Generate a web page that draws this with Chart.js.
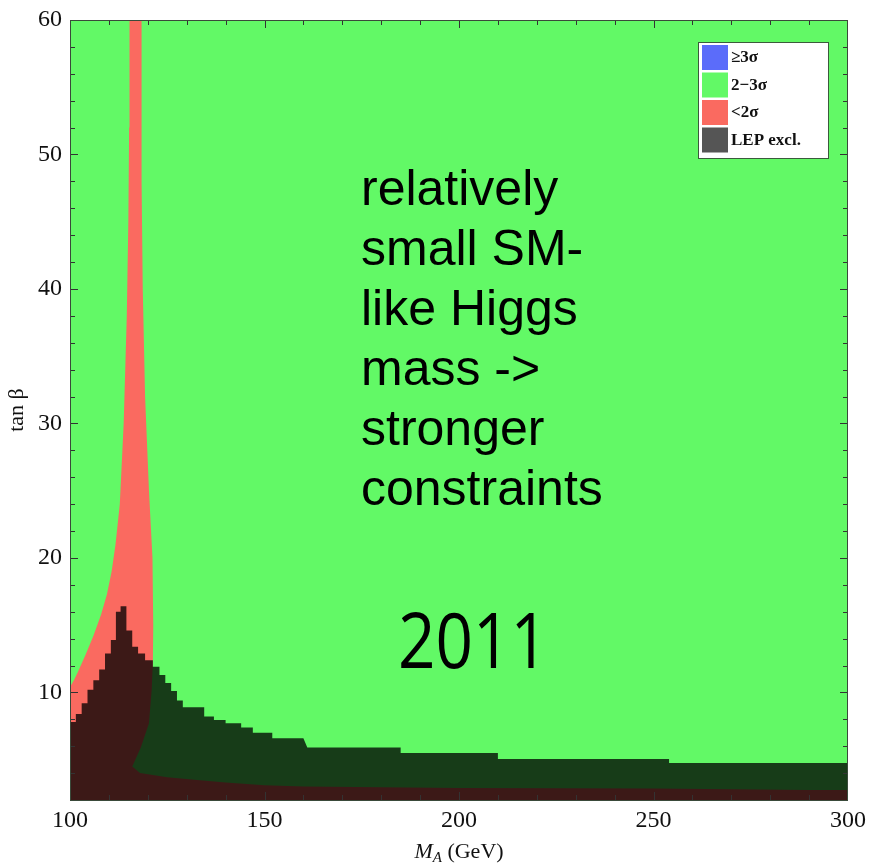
<!DOCTYPE html>
<html>
<head>
<meta charset="utf-8">
<script src="https://cdn.jsdelivr.net/npm/chart.js@4.4.1/dist/chart.umd.min.js"></script>
<style>
  html, body { margin: 0; padding: 0; background: #fff; }
  #wrap { width: 869px; height: 864px; }
</style>
</head>
<body>
<div id="wrap"><canvas id="c"></canvas></div>
<script>
// axis ranges
const X_MIN = 100, X_MAX = 300;
const Y_MIN = 2, Y_MAX = 60;

// 2-3 sigma: whole plane
const band23 = [[100, 2], [100, 60], [300, 60], [300, 2]];

// <2 sigma: narrow spike near 117 GeV, plus the strip along the bottom
const below2 = [
  [100, 2], [100, 10.4], [101, 10.9], [102, 11.5], [104, 12.8], [106, 14.2],
  [108, 15.8], [109.5, 17.3], [110.7, 19], [111.7, 21], [112.8, 24], [113.8, 30],
  [114.6, 38], [115, 45], [115.2, 52], [115.3, 60], [118.4, 60], [118.3, 55],
  [118.5, 48], [118.7, 40], [119.3, 32], [120.3, 25], [121.2, 20], [121.4, 15],
  [121.3, 12.2], [121, 10.2], [120.3, 7.7], [118.2, 5.9], [116, 4.5], [118, 4.0],
  [125, 3.7], [132, 3.5], [140, 3.3], [150, 3.1], [160, 3.0], [200, 2.9],
  [250, 2.85], [290, 2.75], [300, 2.75], [300, 2]
];

// LEP excluded region (stepped edge)
const lepExcl = [
  [100, 2], [100, 7.8], [101.5, 7.8], [101.5, 8.4], [103, 8.4], [103, 9.2],
  [104.5, 9.2], [104.5, 10.2], [106, 10.2], [106, 10.9], [107.5, 10.9], [107.5, 11.7],
  [109, 11.7], [109, 12.9], [110.5, 12.9], [110.5, 13.9], [111.8, 13.9], [111.8, 16],
  [113, 16], [113, 16.4], [114.5, 16.4], [114.5, 14.6], [116, 14.6], [116, 13.4],
  [117.5, 13.4], [117.5, 12.9], [119.3, 12.9], [119.3, 12.4], [121.3, 12.4], [121.3, 11.9],
  [123, 11.9], [123, 11.3], [124.5, 11.3], [124.5, 10.7], [126, 10.7], [126, 10.1],
  [127.5, 10.1], [127.5, 9.4], [129, 9.4], [129, 8.9], [134.5, 8.9], [134.5, 8.2],
  [137, 8.2], [137, 7.95], [140, 7.95], [140, 7.7], [144, 7.7], [144, 7.4],
  [147, 7.4], [147, 7.0], [152, 7.0], [152, 6.6], [160, 6.6], [161, 5.9],
  [185, 5.9], [185, 5.5], [210, 5.5], [210, 5.05], [254, 5.05], [254, 4.75],
  [300, 4.75], [300, 2]
];

const LEGEND_LABELS = ["\u22653\u03c3", "2\u22123\u03c3", "<2\u03c3", "LEP excl."];
const LEGEND_SWATCH = ["#5b6cfa", "#62f966", "#fa6a60", "#555555"];

const NOTE_LINES = ["relatively", "small SM-", "like Higgs", "mass ->", "stronger", "constraints"];
const YEAR_TEXT = "2011";

const SERIF = "'Liberation Serif', 'Times New Roman', serif";

const pts = arr => arr.map(p => ({ x: p[0], y: p[1] }));

function region(label, data, color, order) {
  return {
    label,
    data: pts(data),
    showLine: true,
    fill: "shape",
    backgroundColor: color,
    borderColor: "transparent",
    borderWidth: 0,
    pointRadius: 0,
    pointHoverRadius: 0,
    tension: 0,
    order,
  };
}

const framePlugin = {
  id: "frame",
  afterDatasetsDraw(chart) {
    const { ctx, chartArea: a, scales } = chart;
    ctx.save();
    ctx.strokeStyle = "#333";
    ctx.lineWidth = 1;
    ctx.beginPath();
    scales.x.ticks.forEach(t => {
      if (t.value <= X_MIN || t.value >= X_MAX) return;
      const px = Math.round(scales.x.getPixelForValue(t.value)) + 0.5;
      const len = t.value % 50 === 0 ? 8 : 5;
      ctx.moveTo(px, a.bottom); ctx.lineTo(px, a.bottom - len);
      ctx.moveTo(px, a.top); ctx.lineTo(px, a.top + len);
    });
    scales.y.ticks.forEach(t => {
      if (t.value <= Y_MIN || t.value >= Y_MAX) return;
      const py = Math.round(scales.y.getPixelForValue(t.value)) + 0.5;
      const len = t.value % 10 === 0 ? 8 : 5;
      ctx.moveTo(a.left, py); ctx.lineTo(a.left + len, py);
      ctx.moveTo(a.right, py); ctx.lineTo(a.right - len, py);
    });
    ctx.stroke();
    ctx.strokeStyle = "#3a4a3a";
    ctx.strokeRect(a.left + 0.5, a.top + 0.5, a.right - a.left - 1, a.bottom - a.top);

    // annotation text
    ctx.fillStyle = "#000";
    ctx.textBaseline = "alphabetic";
    ctx.textAlign = "left";
    ctx.font = "50px 'Liberation Sans', Arial, sans-serif";
    NOTE_LINES.forEach((s, i) => ctx.fillText(s, 361, 205 + i * 60));
    ctx.font = "76px 'Open Sans', sans-serif";
    ctx.fillText(YEAR_TEXT, 398, 668, 150);
    ctx.restore();
  },
  afterDraw(chart) {
    const { ctx, chartArea: a } = chart;
    ctx.save();
    // legend box
    const bx = a.right - 150, by = a.top + 22, bw = 130, bh = 116;
    ctx.fillStyle = "#fff";
    ctx.fillRect(bx, by, bw, bh);
    ctx.strokeStyle = "#3c5a3c";
    ctx.lineWidth = 1;
    ctx.strokeRect(bx + 0.5, by + 0.5, bw, bh);
    ctx.font = "bold 17px " + SERIF;
    ctx.textBaseline = "middle";
    LEGEND_LABELS.forEach((lab, i) => {
      const y = by + 3 + i * 27.5;
      ctx.fillStyle = LEGEND_SWATCH[i];
      ctx.fillRect(bx + 4, y, 26, 25);
      ctx.fillStyle = "#111";
      ctx.fillText(lab, bx + 33, y + 13);
    });

    // x axis title: M_A (GeV)
    const cx = (a.left + a.right) / 2, base = 858;
    const big = "22px " + SERIF;
    const bigIt = "italic 22px " + SERIF;
    const subIt = "italic 15px " + SERIF;
    ctx.textBaseline = "alphabetic";
    ctx.fillStyle = "#111";
    ctx.font = bigIt; const wM = ctx.measureText("M").width;
    ctx.font = subIt; const wA = ctx.measureText("A").width;
    ctx.font = big; const wG = ctx.measureText(" (GeV)").width;
    let x = cx - (wM + wA + wG) / 2;
    ctx.font = bigIt; ctx.fillText("M", x, base); x += wM;
    ctx.font = subIt; ctx.fillText("A", x, base + 4); x += wA;
    ctx.font = big; ctx.fillText(" (GeV)", x, base);
    ctx.restore();
  }
};

new Chart(document.getElementById("c"), {
  type: "scatter",
  data: {
    datasets: [
      region(LEGEND_LABELS[0], [], LEGEND_SWATCH[0], 3),
      region(LEGEND_LABELS[1], band23, "#62f966", 2),
      region(LEGEND_LABELS[2], below2, "#fa6a60", 1),
      region(LEGEND_LABELS[3], lepExcl, "rgba(0,0,0,0.76)", 0),
    ],
  },
  options: {
    responsive: true,
    maintainAspectRatio: false,
    animation: false,
    events: [],
    layout: { padding: { left: 0, right: 21, top: 20, bottom: 0 } },
    plugins: {
      legend: { display: false },
      tooltip: { enabled: false },
      title: { display: false },
    },
    scales: {
      x: {
        type: "linear",
        min: X_MIN,
        max: X_MAX,
        grid: { display: false, drawTicks: false },
        border: { display: false },
        ticks: {
          stepSize: 10,
          autoSkip: false,
          maxRotation: 0,
          padding: 6,
          color: "#111",
          font: { family: SERIF, size: 24 },
          callback: v => (v % 50 === 0 ? v : ""),
        },
        afterFit: s => { s.height = 64; s.paddingLeft = 0; s.paddingRight = 0; },
      },
      y: {
        type: "linear",
        min: Y_MIN,
        max: Y_MAX,
        grid: { display: false, drawTicks: false },
        border: { display: false },
        title: {
          display: true,
          text: "tan \u03b2",
          color: "#111",
          font: { family: SERIF, size: 22 },
        },
        ticks: {
          stepSize: 2,
          autoSkip: false,
          padding: 8,
          color: "#111",
          font: { family: SERIF, size: 24 },
          callback: v => (v % 10 === 0 ? v : ""),
        },
        afterFit: s => { s.width = 70; s.paddingTop = 0; s.paddingBottom = 0; },
      },
    },
  },
  plugins: [framePlugin],
});
</script>
</body>
</html>
